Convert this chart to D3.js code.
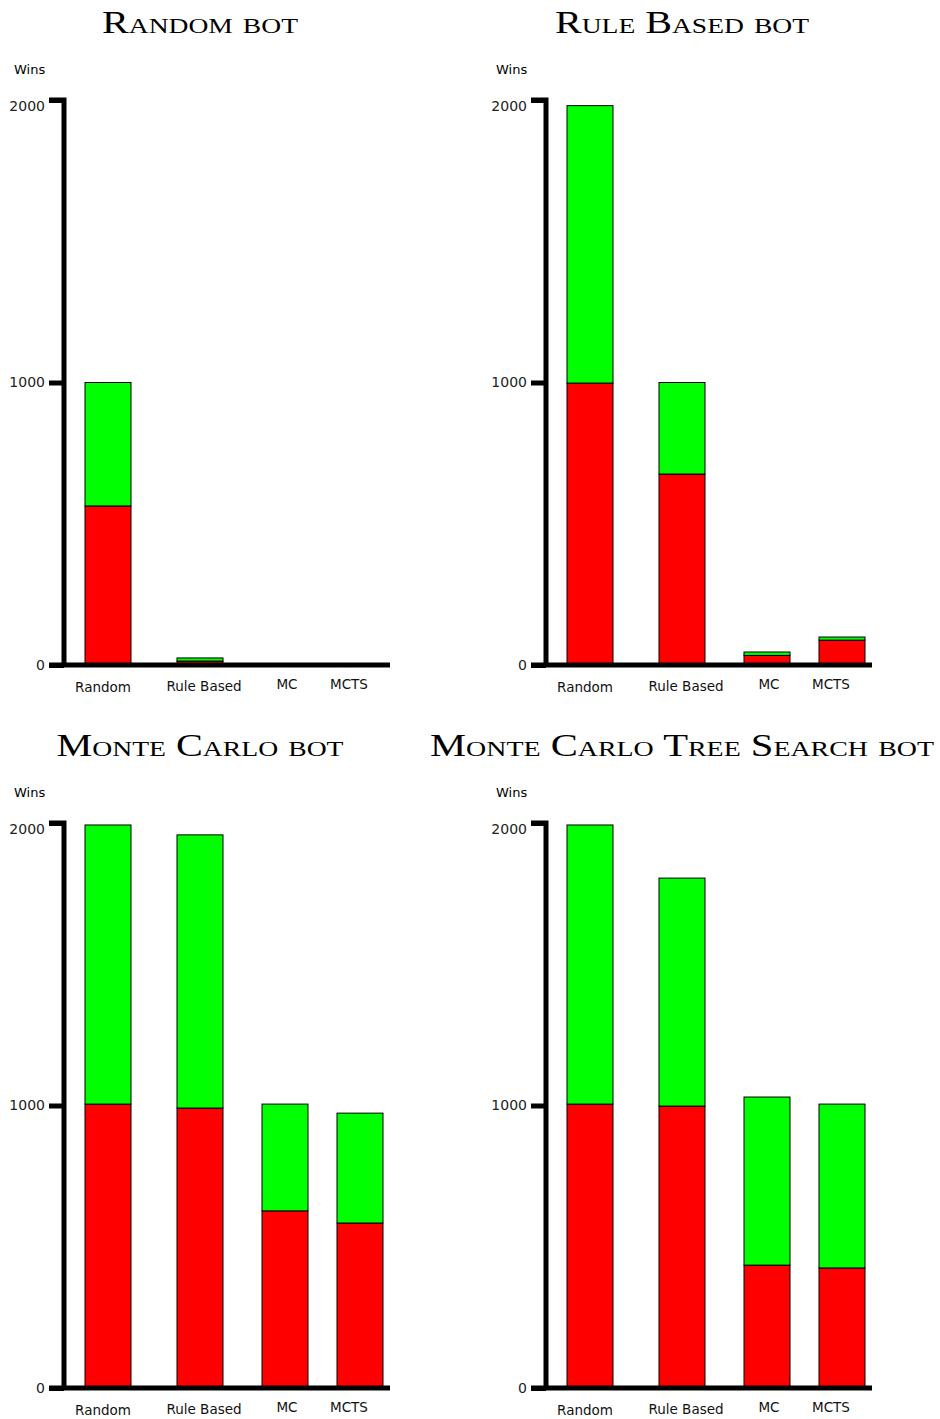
<!DOCTYPE html>
<html>
<head>
<meta charset="utf-8">
<script src="https://cdn.jsdelivr.net/npm/d3@7"></script>
<style>
  html, body { margin: 0; padding: 0; background: #fff; }
  svg { display: block; }
</style>
</head>
<body>
<svg id="chart" width="940" height="1419"></svg>
<script>
// ---- data ----
const categories = ["Random", "Rule Based", "MC", "MCTS"];
const panelTitles = ["Random bot", "Rule Based bot", "Monte Carlo bot", "Monte Carlo Tree Search bot"];
const yTicks = [0, 1000, 2000];
const yLabel = "Wins";

// red = lower segment, green = upper segment (stacked)
const randomBotRed    = [563, 14, 1, 0];
const randomBotGreen  = [437, 11, 1, 0];
const ruleBotRed      = [998, 676, 34, 88];
const ruleBotGreen    = [982, 324, 12, 11];
const mcBotRed        = [1005, 991, 627, 584];
const mcBotGreen      = [988, 967, 378, 389];
const mctsBotRed      = [1005, 998, 435, 425];
const mctsBotGreen    = [988, 807, 595, 580];

const redSeries = [randomBotRed, ruleBotRed, mcBotRed, mctsBotRed];
const greenSeries = [randomBotGreen, ruleBotGreen, mcBotGreen, mctsBotGreen];

// ---- layout ----
const panelOffsets = [[0, 0], [482, 0], [0, 723], [482, 723]];
const titleLengths = [196, 254, 287, 504];
const svg = d3.select("#chart");

const y = d3.scaleLinear().domain([0, 2000]).range([665, 100]);
const xBar = d3.scaleOrdinal().domain(categories).range([85, 177, 262, 337]);
const barW = 46;
const xLab = d3.scaleOrdinal().domain(categories).range([103, 204, 287, 349]);
const yLab = d3.scaleOrdinal().domain(categories).range([692, 691, 689, 689]);

panelTitles.forEach((title, p) => {
  const g = svg.append("g").attr("transform", `translate(${panelOffsets[p][0]},${panelOffsets[p][1]})`);

  g.append("text")
    .attr("x", 200).attr("y", 33)
    .attr("text-anchor", "middle")
    .attr("font-family", "'Liberation Serif', 'DejaVu Serif', serif")
    .attr("font-size", 32)
    .attr("font-variant", "small-caps")
    .attr("textLength", titleLengths[p])
    .attr("lengthAdjust", "spacingAndGlyphs")
    .attr("fill", "#000")
    .text(title);

  g.append("text")
    .attr("x", 14).attr("y", 74)
    .attr("font-family", "'DejaVu Sans', sans-serif")
    .attr("font-size", 13)
    .attr("fill", "#000")
    .text(yLabel);

  const rows = categories.map((c, i) => ({
    cat: c, red: redSeries[p][i], green: greenSeries[p][i]
  }));

  // red segments
  g.selectAll(".red").data(rows).enter().append("rect")
    .attr("x", d => xBar(d.cat))
    .attr("y", d => y(d.red))
    .attr("width", barW)
    .attr("height", d => y(0) - y(d.red))
    .attr("fill", "#ff0000")
    .attr("stroke", d => d.red > 0 ? "#000" : "none")
    .attr("stroke-width", 1);

  // green segments
  g.selectAll(".green").data(rows).enter().append("rect")
    .attr("x", d => xBar(d.cat))
    .attr("y", d => y(d.red + d.green))
    .attr("width", barW)
    .attr("height", d => y(d.red) - y(d.red + d.green))
    .attr("fill", "#00ff00")
    .attr("stroke", d => d.green > 0 ? "#000" : "none")
    .attr("stroke-width", 1);

  // y axis
  const ax = g.append("g")
    .attr("transform", "translate(64,0)")
    .call(d3.axisLeft(y).tickValues(yTicks).tickSize(15).tickSizeOuter(0).tickPadding(4).tickFormat(d3.format("d")));
  ax.select(".domain").attr("stroke", "#000").attr("stroke-width", 5);
  ax.selectAll(".tick line").attr("stroke", "#000").attr("stroke-width", 5);
  ax.selectAll(".tick text")
    .attr("font-family", "'DejaVu Sans', sans-serif")
    .attr("font-size", 14)
    .attr("fill", "#222")
    .attr("dy", d => d === 2000 ? "0.75em" : "0.32em");
  ax.select(".domain").attr("d", `M-15,${y(2000)}H0V${y(0) + 2}`);

  // x axis baseline
  g.append("line")
    .attr("x1", 49).attr("x2", 390)
    .attr("y1", y(0)).attr("y2", y(0))
    .attr("stroke", "#000").attr("stroke-width", 5);

  // category labels
  g.selectAll(".cat").data(categories).enter().append("text")
    .attr("x", d => xLab(d))
    .attr("y", d => yLab(d))
    .attr("text-anchor", "middle")
    .attr("font-family", "'DejaVu Sans', sans-serif")
    .attr("font-size", 13.5)
    .attr("fill", "#111")
    .text(d => d);
});
</script>
</body>
</html>
